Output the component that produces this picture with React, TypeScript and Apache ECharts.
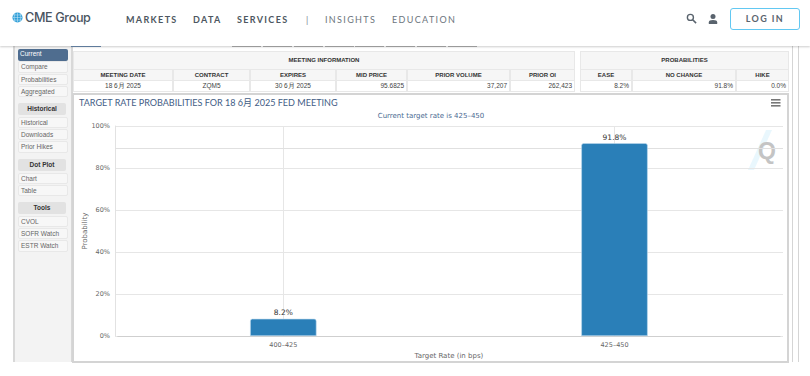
import React, { useEffect, useRef } from "react";
import * as echarts from "echarts";

const categories = ["400–425", "425–450"];
const probabilities = [8.2, 91.8];
const referenceLevel = 89.4;
const yTicks = { min: 0, max: 100, interval: 20 };

const navStrong = [["MARKETS", 126], ["DATA", 193], ["SERVICES", 237]] as const;
const navLight = [["INSIGHTS", 325], ["EDUCATION", 392]] as const;
const tabStarts = [232, 263, 294, 325, 355, 386, 417, 448];

const sideGroups = [
  { top: 49, header: "", items: ["Current", "Compare", "Probabilities", "Aggregated"] },
  { top: 103, header: "Historical", items: ["Historical", "Downloads", "Prior Hikes"] },
  { top: 159, header: "Dot Plot", items: ["Chart", "Table"] },
  { top: 202, header: "Tools", items: ["CVOL", "SOFR Watch", "ESTR Watch"] },
];

const meetingHeaders = ["MEETING DATE", "CONTRACT", "EXPIRES", "MID PRICE", "PRIOR VOLUME", "PRIOR OI"];
const meetingValues = ["18 6月 2025", "ZQM5", "30 6月 2025", "95.6825", "37,207", "262,423"];
const meetingEdges = [73, 173, 250, 336, 407, 510, 575];
const meetingAlign = ["center", "center", "center", "right", "right", "right"];
const probHeaders = ["EASE", "NO CHANGE", "HIKE"];
const probValues = ["8.2%", "91.8%", "0.0%"];
const probEdges = [580, 632, 736, 789];

const tableFont = "'Liberation Sans', Arial, sans-serif";
const chartFont = "'DejaVu Sans', sans-serif";
const abs = (left: number, top: number, width: number, height: number): React.CSSProperties => ({
  position: "absolute", left, top, width, height, boxSizing: "border-box",
});

function TableBlock(props: { title: string; edges: number[]; headers: string[]; values: string[]; align: string[] }) {
  const { title, edges, headers, values, align } = props;
  const l = edges[0], r = edges[edges.length - 1];
  const line = "1px solid #e8e8e8";
  return (
    <>
      <div style={{ ...abs(l, 51, r - l, 19), background: "#f6f6f6", border: line, font: `bold 6px/17px ${tableFont}`, color: "#333", textAlign: "center" }}>{title}</div>
      {headers.map((h, i) => (
        <div key={h} style={{ ...abs(edges[i], 69, edges[i + 1] - edges[i], 12), background: "#f6f6f6", border: line, font: `bold 6px/10px ${tableFont}`, color: "#333", textAlign: "center" }}>{h}</div>
      ))}
      {values.map((v, i) => (
        <div key={v + i} style={{ ...abs(edges[i], 80, edges[i + 1] - edges[i], 12), background: "#fff", border: line, font: `6.5px/10px ${tableFont}`, color: "#444", textAlign: align[i] as any, padding: "0 2px" }}>{v}</div>
      ))}
    </>
  );
}

function Chrome() {
  const rows: React.ReactNode[] = [];
  sideGroups.forEach((g) => {
    let y = g.top;
    if (g.header) {
      rows.push(<div key={g.header + "h"} style={{ ...abs(18, y, 48, 12), background: "#e2e2e2", borderRadius: 2, font: `bold 6.5px/12px ${tableFont}`, color: "#333", textAlign: "center" }}>{g.header}</div>);
      y += 13.5;
    }
    g.items.forEach((it, i) => {
      const active = it === "Current";
      rows.push(<div key={g.top + it} style={{ ...abs(18, y + i * 12.3, 50, 11.6), background: active ? "#4f6d8f" : "#f7f7f7", border: active ? "none" : "1px solid #e8e8e8", borderRadius: 2, font: `6.5px/10px ${tableFont}`, color: active ? "#fff" : "#666", paddingLeft: 2 }}>{it}</div>);
    });
  });
  return (
    <>
      <div style={{ ...abs(13, 46, 60, 316), background: "#f3f3f3", borderLeft: "2px solid #d8d8d8", borderRight: "2px solid #d8d8d8" }} />
      <div style={{ ...abs(792, 46, 7, 316), borderLeft: "1px solid #d5d5d5", borderRight: "1px solid #d5d5d5" }} />
      {rows}
      <TableBlock title="MEETING INFORMATION" edges={meetingEdges} headers={meetingHeaders} values={meetingValues} align={meetingAlign} />
      <TableBlock title="PROBABILITIES" edges={probEdges} headers={probHeaders} values={probValues} align={["right", "right", "right"]} />
      <div style={{ ...abs(72, 93, 717, 270), border: "2px solid #d4d4d4", background: "#fff" }} />

      <div style={{ ...abs(0, 0, 810, 46), background: "#fff", boxShadow: "0 1px 2px rgba(0,0,0,0.2)" }} />
      <div style={{ ...abs(71, 46, 30, 1), background: "#5f7b9b" }} />
      {tabStarts.map((x) => <div key={x} style={{ ...abs(x, 46, 29, 1), background: "#9a9a9a" }} />)}
      <svg style={abs(12, 12, 11, 11)} viewBox="0 0 13 13">
        <circle cx="6.5" cy="6.5" r="6" fill="#2f9fd8" />
        <path d="M.5 6.5h12M1.5 3.5h10M1.5 9.5h10M6.5.5v12M3.5 1.5q-2 5 0 10M9.5 1.5q2 5 0 10" stroke="#cfeaf7" strokeWidth=".6" fill="none" />
      </svg>
      <div style={{ ...abs(25, 9, 80, 18), font: `500 12.6px/18px Inter, sans-serif`, letterSpacing: "-0.35px", color: "#49545f", whiteSpace: "nowrap" }}>CME Group</div>
      {navStrong.map(([t, x]) => (
        <div key={t} style={{ ...abs(x, 13, 70, 13), font: "700 9px/13px Lato, sans-serif", letterSpacing: "1.35px", color: "#4d5761", whiteSpace: "nowrap" }}>{t}</div>
      ))}
      <div style={{ ...abs(306, 13, 6, 13), font: "400 9px/13px Lato, sans-serif", color: "#7a828a" }}>|</div>
      {navLight.map(([t, x]) => (
        <div key={t} style={{ ...abs(x, 13, 80, 13), font: "400 9px/13px Lato, sans-serif", letterSpacing: "1.35px", color: "#6c757d", whiteSpace: "nowrap" }}>{t}</div>
      ))}
      <svg style={abs(686, 13, 11, 11)} viewBox="0 0 12 12"><circle cx="4.8" cy="4.8" r="3.3" fill="none" stroke="#59636d" strokeWidth="1.5" /><path d="M7.3 7.3L11 11" stroke="#59636d" strokeWidth="1.7" /></svg>
      <svg style={abs(708, 13, 10, 12)} viewBox="0 0 10 12"><circle cx="5" cy="3.5" r="2.5" fill="#59636d" /><path d="M.8 11V9.2Q.8 7 5 7t4.2 2.2V11z" fill="#59636d" /></svg>
      <div style={{ ...abs(730, 8, 70, 22), border: "1.5px solid #62c8f2", borderRadius: 3, background: "#fff", font: "700 9px/19px Lato, sans-serif", letterSpacing: "1.4px", color: "#5a646e", textAlign: "center" }}>LOG IN</div>
    </>
  );
}

export default function App() {
  const ref = useRef<HTMLDivElement>(null);
  useEffect(() => {
    document.body.style.margin = "0";
    const chart = echarts.init(ref.current!, undefined, { renderer: "svg" });
    const axisText = { color: "#666", fontSize: 6.5, fontFamily: chartFont };
    chart.setOption({
      animation: false,
      textStyle: { fontFamily: chartFont },
      title: [
        { text: "TARGET RATE PROBABILITIES FOR 18 6月 2025 FED MEETING", left: 0, top: -1, textStyle: { color: "#3f5c85", fontSize: 9.05, fontWeight: "normal", fontFamily: "Lato, 'Noto Sans CJK SC', sans-serif" } },
        { text: "Current target rate is 425–450", left: 352, top: 13, textAlign: "center", textStyle: { color: "#4a6a92", fontSize: 7, fontWeight: "normal", fontFamily: chartFont } },
      ],
      grid: [
        { left: 41, width: 668, top: 32, height: 210, outerBoundsMode: "none" },
        { left: 43.7, width: 662.4, top: 32, height: 210, outerBoundsMode: "none" },
      ],
      xAxis: [
        { type: "category", gridIndex: 0, data: categories, show: false },
        {
          type: "category", gridIndex: 1, data: categories,
          axisLine: { lineStyle: { color: "#cfcfcf", width: 1 } },
          axisTick: { alignWithLabel: true, length: 5, lineStyle: { color: "#ccc" } },
          axisLabel: { ...axisText, margin: 5 },
          splitLine: { show: true, alignWithLabel: true, lineStyle: { color: "#e6e6e6" } },
          name: "Target Rate (in bps)", nameLocation: "middle", nameGap: 15,
          nameTextStyle: { color: "#666", fontSize: 7, fontFamily: chartFont },
        },
      ],
      yAxis: [
        {
          type: "value", gridIndex: 0, ...yTicks,
          axisLine: { show: true, lineStyle: { color: "#e2e2e2" } },
          axisTick: { show: false },
          axisLabel: { ...axisText, margin: 5, formatter: "{value}%" },
          splitLine: { lineStyle: { color: "#e6e6e6" } },
          name: "Probability", nameLocation: "middle", nameGap: 27, nameMoveOverlap: false,
          nameTextStyle: { color: "#666", fontSize: 7, fontFamily: chartFont },
        },
        { type: "value", gridIndex: 1, ...yTicks, show: false },
      ],
      series: [
        {
          type: "line", xAxisIndex: 0, yAxisIndex: 0, data: [], silent: true, z: 1,
          markLine: { silent: true, z: 1, symbol: "none", label: { show: false }, lineStyle: { color: "#e0e0e0", type: "solid", width: 1 }, data: [{ yAxis: referenceLevel }] },
        },
        {
          type: "bar", xAxisIndex: 1, yAxisIndex: 1, data: probabilities, barWidth: 66.4, z: 5,
          itemStyle: { color: "#2a7fb8", borderColor: "#bcd9ec", borderWidth: 0.6, borderRadius: [2, 2, 0, 0] },
          label: { show: true, position: "top", distance: 2, formatter: "{c}%", color: "#333", fontSize: 7.5, fontFamily: chartFont },
        },
      ],
      graphic: [
        ...[5, 8, 11].map((y) => ({ type: "rect", shape: { x: 697, y, width: 9.5, height: 1.6 }, style: { fill: "#777" } })),
        { type: "polygon", shape: { points: [[692, 36], [698, 36], [680, 76], [674, 76]] }, style: { fill: "#e4f5fc", opacity: 0.8 } },
        { type: "text", style: { text: "Q", x: 684, y: 45, font: `bold 23px ${"'Liberation Sans', sans-serif"}`, fill: "#c4c4c4" } },
      ],
    });
    return () => chart.dispose();
  }, []);
  return (
    <div style={{ position: "relative", width: 810, height: 376, overflow: "hidden", background: "#fff" }}>
      <Chrome />
      <div ref={ref} style={abs(74, 94, 714, 268)} />
    </div>
  );
}
